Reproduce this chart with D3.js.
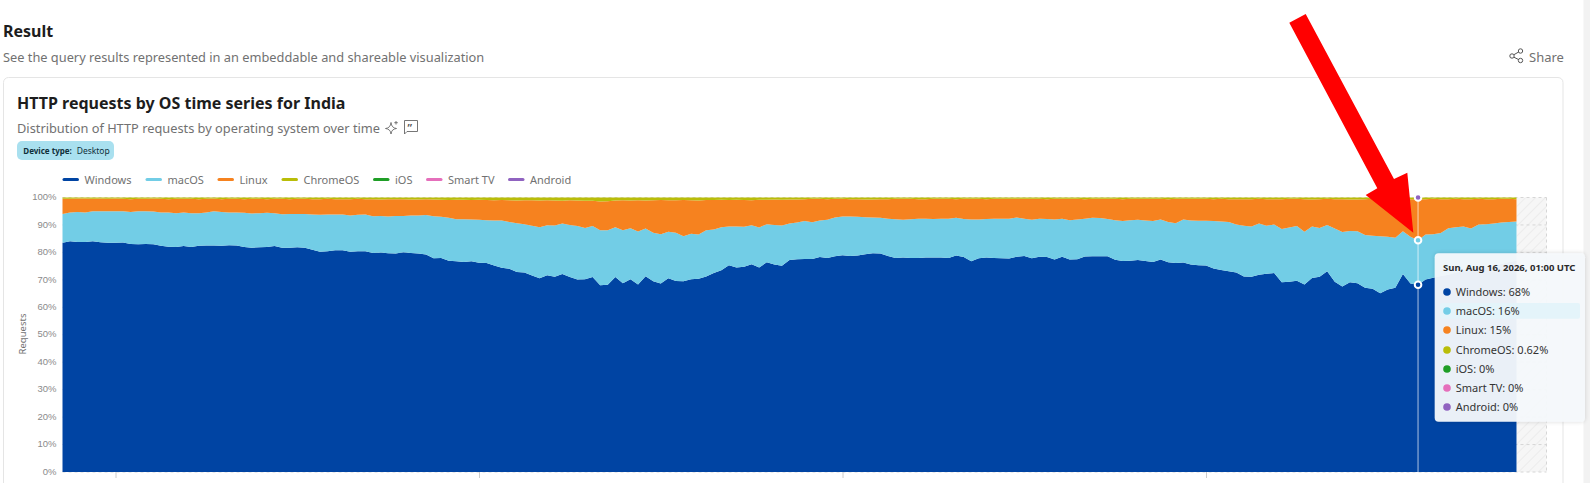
<!DOCTYPE html>
<html>
<head>
<meta charset="utf-8">
<script src="https://cdn.jsdelivr.net/npm/d3@7"></script>
<style>
  html, body { margin: 0; padding: 0; background: #fff; overflow: hidden; }
  svg { display: block; font-family: "Noto Sans", sans-serif; }
  .ytick text { font-family: "Liberation Sans", sans-serif; font-size: 9.5px; fill: #8a8a8a; }
</style>
</head>
<body>
<svg id="page" width="1590" height="483"></svg>
<script>
// ── Data (share of requests in %, one value per hour) ─────────────────────────
const windowsShare = [
  83.5,84.1,83.8,83.8,84.1,83.7,83.5,83.5,83.6,83.1,83.0,83.1,83.0,82.4,82.1,82.0,82.3,82.0,82.4,82.5,82.5,82.4,82.6,82.5,82.0,81.7,81.9,82.0,82.3,81.7,81.7,81.9,81.7,81.0,80.2,80.4,80.8,80.8,80.2,80.4,80.4,79.8,80.0,79.7,79.6,
  80.1,79.8,79.6,79.2,77.9,78.0,77.0,76.8,76.5,76.8,76.2,76.1,75.2,74.4,74.0,72.9,72.7,71.6,70.6,71.7,71.1,72.1,71.0,70.1,70.2,71.0,68.0,68.2,71.0,68.8,70.2,68.3,71.3,69.5,68.7,70.6,69.6,69.5,70.2,70.4,71.2,72.5,73.5,75.3,74.5,74.8,75.7,74.5,76.4,75.6,75.1,77.2,77.5,
  77.6,77.6,78.3,78.0,78.6,79.0,78.7,78.9,79.3,79.7,79.6,78.7,78.0,78.1,78.0,78.0,78.1,78.1,78.1,78.0,78.9,78.3,76.8,77.9,78.1,78.0,77.9,77.8,78.4,78.7,77.9,78.4,78.3,77.4,78.4,77.4,77.5,78.5,78.6,78.6,78.6,77.3,76.9,77.0,77.2,76.9,76.5,77.4,76.4,76.1,76.3,75.6,75.3,
  75.2,74.1,73.6,73.1,72.7,71.2,71.1,71.9,72.2,72.5,69.1,69.3,69.7,68.3,70.7,71.1,73.1,69.3,67.6,69.1,68.8,67.1,66.8,65.1,66.5,67.1,72.1,68.7,68.2,70.1,70.8,71.4,71.9,72.7,73.1,73.5,74.4,74.7,75.3,75.8,76.5,77.0
];
const macosShare = [
  10.5,10.4,10.9,10.7,10.9,11.3,11.5,11.5,11.4,11.6,12.0,11.9,11.9,12.1,12.4,12.3,12.2,12.3,11.9,12.0,12.5,12.3,11.9,12.0,12.4,12.5,12.4,12.4,12.0,12.2,12.3,12.1,12.3,12.8,13.5,13.4,13.0,13.0,13.2,13.3,13.4,13.4,13.3,13.4,13.7,
  13.2,13.6,13.8,14.4,15.3,15.0,15.6,15.3,15.6,15.2,15.7,15.6,16.4,17.2,17.1,17.7,17.6,18.1,18.6,18.2,18.7,18.4,19.0,19.5,18.7,18.6,20.1,19.9,18.2,19.3,18.6,19.3,17.4,17.7,17.9,16.9,17.6,16.4,16.6,16.1,16.9,15.8,15.7,14.1,14.9,14.5,14.2,14.6,13.9,14.4,14.7,13.3,13.4,
  13.8,13.4,13.3,13.9,14.1,14.1,14.4,14.1,13.5,13.0,13.0,13.6,14.1,13.8,14.1,14.3,14.2,14.1,14.2,14.3,13.7,13.9,15.2,14.1,14.1,14.3,14.4,14.5,14.3,13.6,14.0,13.9,13.9,14.6,13.9,14.3,14.5,13.8,14.0,13.9,13.6,14.4,14.5,14.7,14.7,14.7,14.9,14.6,14.7,14.5,15.7,16.0,16.2,
  16.3,17.3,17.7,18.0,17.5,18.5,18.3,18.6,17.5,17.7,19.4,19.8,19.9,19.2,18.7,17.8,16.9,19.4,19.8,18.7,18.9,19.2,19.3,20.8,19.2,18.2,15.6,17.0,16.2,16.4,15.8,15.7,16.9,16.5,16.3,15.2,15.8,15.6,15.2,15.1,14.6,14.3
];
const linuxShare = [
  5.5,5.0,4.9,5.1,4.5,4.6,4.5,4.6,4.5,4.7,4.5,4.5,4.7,5.0,4.9,5.2,5.0,5.2,5.1,5.0,4.6,4.7,5.0,5.0,5.0,5.3,5.2,5.0,5.2,5.6,5.4,5.5,5.5,5.6,5.7,5.7,5.6,5.6,6.0,5.8,5.6,6.2,6.0,6.3,6.1,
  6.1,5.9,5.9,5.8,6.1,6.2,6.5,7.1,7.1,7.1,7.3,7.4,7.4,7.5,7.9,8.3,8.7,9.3,9.7,9.1,9.1,8.3,9.0,9.3,9.9,9.2,10.4,10.5,9.7,10.9,10.1,11.4,10.2,11.8,12.5,11.5,11.8,13.2,12.2,12.4,11.0,10.8,10.0,9.7,9.8,9.8,9.1,10.1,8.9,9.3,9.4,8.8,8.4,
  8.0,8.5,7.9,7.5,6.8,6.4,6.3,6.4,6.5,6.6,6.8,7.1,7.4,7.6,7.4,7.1,7.1,7.3,7.2,7.2,6.8,7.3,7.5,7.5,7.2,7.2,7.2,7.2,6.8,7.2,7.6,7.2,7.2,7.5,7.2,7.8,7.5,7.1,6.9,7.0,7.3,7.8,8.0,7.8,7.6,7.9,8.1,7.5,8.3,8.9,7.5,7.9,8.0,
  8.0,8.0,8.2,8.3,9.2,9.7,10.0,9.0,9.7,9.2,10.9,10.4,9.9,11.9,9.9,10.5,9.5,10.7,12.0,11.5,11.6,13.1,13.4,13.5,13.7,14.0,11.7,13.7,15.0,12.9,12.9,12.3,10.6,10.3,10.0,10.7,9.3,9.1,8.9,8.6,8.4,8.1
];
const chromeosShare = [
  0.5,0.5,0.4,0.4,0.5,0.4,0.5,0.4,0.5,0.6,0.5,0.5,0.4,0.5,0.6,0.5,0.5,0.5,0.6,0.5,0.4,0.6,0.5,0.5,0.6,0.5,0.5,0.6,0.5,0.5,0.6,0.5,0.5,0.6,0.6,0.5,0.6,0.6,0.6,0.5,0.6,0.6,0.7,0.6,0.6,
  0.6,0.7,0.7,0.6,0.7,0.8,0.9,0.8,0.8,0.9,0.8,0.9,1.0,0.9,1.0,1.1,1.0,1.0,1.1,1.0,1.1,1.2,1.0,1.1,1.2,1.2,1.5,1.4,1.1,1.0,1.1,1.0,1.1,1.0,0.9,1.0,1.0,0.9,1.0,1.1,0.9,0.9,0.8,0.9,0.8,0.9,1.0,0.8,0.8,0.7,0.8,0.7,0.7,
  0.6,0.5,0.5,0.6,0.5,0.5,0.6,0.6,0.7,0.7,0.6,0.6,0.5,0.5,0.5,0.6,0.6,0.5,0.5,0.5,0.6,0.5,0.5,0.5,0.6,0.5,0.5,0.5,0.5,0.5,0.5,0.5,0.6,0.5,0.5,0.5,0.5,0.6,0.5,0.5,0.5,0.5,0.6,0.5,0.5,0.5,0.5,0.5,0.6,0.5,0.5,0.5,0.5,
  0.5,0.6,0.5,0.6,0.6,0.6,0.6,0.5,0.6,0.6,0.6,0.5,0.5,0.6,0.7,0.6,0.5,0.6,0.6,0.7,0.7,0.6,0.5,0.6,0.6,0.7,0.6,0.6,0.62,0.6,0.5,0.6,0.6,0.5,0.6,0.6,0.5,0.6,0.6,0.5,0.5,0.6
];
// iOS, Smart TV and Android read 0% all the way across
const seriesNames  = ['Windows', 'macOS', 'Linux', 'ChromeOS', 'iOS', 'Smart TV', 'Android'];
const seriesColors = ['#0044a3', '#72cde6', '#f6821f', '#b9bd08', '#1f9e26', '#e56fbb', '#9063c0'];
const tooltipValues = ['68%', '16%', '15%', '0.62%', '0%', '0%', '0%'];
const yTickValues  = [0, 10, 20, 30, 40, 50, 60, 70, 80, 90, 100];
const xTickDates   = [Date.UTC(2026, 7, 8, 21), Date.UTC(2026, 7, 10, 21), Date.UTC(2026, 7, 12, 21), Date.UTC(2026, 7, 14, 21)];
const startTime    = Date.UTC(2026, 7, 8, 14);
const hoverTime    = Date.UTC(2026, 7, 16, 1);
const HOUR         = 3600e3;

// ── Layout ────────────────────────────────────────────────────────────────────
const PLOT = { left: 62.5, right: 1516.5, hatchRight: 1546.5, top: 197.5, bottom: 472 };

const rows = windowsShare.map((w, i) => ({
  time: new Date(startTime + i * HOUR),
  Windows: w, macOS: macosShare[i], Linux: linuxShare[i], ChromeOS: chromeosShare[i],
  iOS: 0, 'Smart TV': 0, Android: 0
}));

const svg = d3.select('#page');
const textGrey = '#717171';

// ── Page furniture ────────────────────────────────────────────────────────────
function label(parent, x, y, str, size, color, weight) {
  return parent.append('text')
    .attr('x', x).attr('y', y)
    .attr('dominant-baseline', 'central')
    .attr('font-size', size).attr('fill', color)
    .attr('font-weight', weight || 400)
    .text(str);
}

svg.append('rect').attr('x', 1583.5).attr('y', 0).attr('width', 7).attr('height', 483).attr('fill', '#f2f2f2');
svg.append('rect').attr('x', 3.5).attr('y', 77.5).attr('width', 1559.5).attr('height', 430)
  .attr('rx', 5).attr('fill', '#fff').attr('stroke', '#e5e5e5');

label(svg, 3, 31, 'Result', 16, '#1d1d1d', 700);
label(svg, 3, 56.5, 'See the query results represented in an embeddable and shareable visualization', 12.8, textGrey);
label(svg, 1529, 56.5, 'Share', 13, textGrey);
label(svg, 17, 103, 'HTTP requests by OS time series for India', 16, '#1d1d1d', 700);
label(svg, 17, 128, 'Distribution of HTTP requests by operating system over time', 12.8, textGrey);

// share icon
const share = svg.append('g').attr('fill', 'none').attr('stroke', '#555').attr('stroke-width', 1);
share.append('path').attr('d', 'M1512.5 55.5L1519.5 51.5M1512.5 56.5L1519.5 60');
[[1512, 56], [1520.5, 51], [1520.5, 60.5]].forEach(p =>
  share.append('circle').attr('cx', p[0]).attr('cy', p[1]).attr('r', 2.2).attr('fill', '#fff'));

// sparkle + comment icons next to the description
svg.append('path').attr('fill', 'none').attr('stroke', '#666').attr('stroke-width', 0.9)
  .attr('d', 'M391 122.5Q391.5 128 396.5 128.5Q391.5 129 391 134Q390.5 129 385.5 128.5Q390.5 128 391 122.5ZM396 121v3.5M394.3 122.7h3.5');
svg.append('path').attr('fill', 'none').attr('stroke', '#666').attr('stroke-width', 0.9)
  .attr('d', 'M404.5 120.5h13v11h-10.5l-2.5 2.5z');
label(svg, 407.5, 127.5, '”', 11, '#555', 600);

// badge
svg.append('rect').attr('x', 17).attr('y', 141).attr('width', 97).attr('height', 19).attr('rx', 5).attr('fill', '#a9e0ef');
label(svg, 23.3, 150.5, 'Device type:', 8, '#0f2f3a', 700);
label(svg, 76.7, 150.5, 'Desktop', 8.5, '#0f2f3a');

// ── Legend ────────────────────────────────────────────────────────────────────
const legendX = [62.5, 145.5, 217.5, 281.5, 373, 426, 508];
const legend = svg.append('g').selectAll('g').data(seriesNames).join('g')
  .attr('transform', (d, i) => `translate(${legendX[i]},179.5)`);
legend.append('line').attr('x1', 1.5).attr('x2', 15).attr('stroke-width', 3).attr('stroke-linecap', 'round')
  .attr('stroke', (d, i) => seriesColors[i]);
legend.append('text').attr('x', 22).attr('dominant-baseline', 'central')
  .attr('font-size', 11).attr('fill', textGrey).text(d => d);

// ── Scales ────────────────────────────────────────────────────────────────────
const x = d3.scaleUtc()
  .domain([new Date(startTime), new Date(startTime + (windowsShare.length - 1) * HOUR)])
  .range([PLOT.left, PLOT.right]);
const y = d3.scaleLinear().domain([0, 100]).range([PLOT.bottom, PLOT.top]);

// ── Hatched "incomplete data" band ────────────────────────────────────────────
const defs = svg.append('defs');
const hatch = defs.append('pattern').attr('id', 'hatch').attr('patternUnits', 'userSpaceOnUse')
  .attr('width', 7).attr('height', 7).attr('patternTransform', 'rotate(45)');
hatch.append('rect').attr('width', 7).attr('height', 7).attr('fill', '#f6f6f6');
hatch.append('line').attr('x1', 0).attr('x2', 0).attr('y1', 0).attr('y2', 7).attr('stroke', '#ececec').attr('stroke-width', 2);

svg.append('rect').attr('x', PLOT.right).attr('y', PLOT.top)
  .attr('width', PLOT.hatchRight - PLOT.right).attr('height', PLOT.bottom - PLOT.top)
  .attr('fill', 'url(#hatch)');

// ── Grid ──────────────────────────────────────────────────────────────────────
svg.append('g').selectAll('line').data(yTickValues).join('line')
  .attr('x1', PLOT.left).attr('x2', PLOT.hatchRight)
  .attr('y1', d => y(d)).attr('y2', d => y(d))
  .attr('stroke', '#d6d6d6').attr('stroke-dasharray', '3,3');
svg.append('line').attr('x1', PLOT.hatchRight).attr('x2', PLOT.hatchRight)
  .attr('y1', PLOT.top).attr('y2', PLOT.bottom)
  .attr('stroke', '#d6d6d6').attr('stroke-dasharray', '3,3');

// ── Stacked areas ─────────────────────────────────────────────────────────────
const stacked = d3.stack().keys(seriesNames)(rows);
const area = d3.area()
  .x(d => x(d.data.time))
  .y0(d => y(d[0]))
  .y1(d => y(d[1]));
svg.append('g').selectAll('path').data(stacked).join('path')
  .attr('fill', (d, i) => seriesColors[i])
  .attr('d', area);

// ── Axes ──────────────────────────────────────────────────────────────────────
const yAxis = svg.append('g').attr('class', 'ytick')
  .attr('transform', `translate(${PLOT.left - 6},-0.8)`)
  .call(d3.axisLeft(y).tickValues(yTickValues).tickSize(0).tickPadding(0).tickFormat(d => d + '%'));
yAxis.select('.domain').remove();

const xAxis = svg.append('g')
  .attr('transform', `translate(0,${PLOT.bottom})`)
  .call(d3.axisBottom(x).tickValues(xTickDates.map(d => new Date(d))).tickSize(6).tickFormat(''));
xAxis.select('.domain').remove();
xAxis.selectAll('line').attr('stroke', '#cccccc');

svg.append('text')
  .attr('transform', `translate(22,334) rotate(-90)`)
  .attr('text-anchor', 'middle').attr('dominant-baseline', 'central')
  .attr('font-size', 9.5).attr('fill', textGrey)
  .text('Requests');

// ── Hover marker ──────────────────────────────────────────────────────────────
const hoverX = x(new Date(hoverTime));
svg.append('line').attr('x1', hoverX).attr('x2', hoverX)
  .attr('y1', PLOT.top).attr('y2', PLOT.bottom)
  .attr('stroke', '#fff').attr('stroke-opacity', 0.45).attr('stroke-width', 1.5);
const hoverIndex = (hoverTime - startTime) / HOUR;
[0, 1, 6].forEach(s => {
  svg.append('circle')
    .attr('cx', hoverX).attr('cy', y(stacked[s][hoverIndex][1]))
    .attr('r', 3.3)
    .attr('fill', seriesColors[s]).attr('stroke', '#fff').attr('stroke-width', 2);
});

// ── Tooltip ───────────────────────────────────────────────────────────────────
const tipShadow = defs.append('filter').attr('id', 'tip-shadow')
  .attr('x', '-10%').attr('y', '-10%').attr('width', '120%').attr('height', '120%');
tipShadow.append('feDropShadow').attr('dx', 0).attr('dy', 0).attr('stdDeviation', 2)
  .attr('flood-color', '#000').attr('flood-opacity', 0.16);

const tip = svg.append('g');
tip.append('rect').attr('x', 1434.7).attr('y', 253.3).attr('width', 150.3).attr('height', 168.4)
  .attr('rx', 4).attr('fill', '#f6f9fc').attr('fill-opacity', 0.95).attr('filter', 'url(#tip-shadow)');
tip.append('rect').attr('x', 1440).attr('y', 303).attr('width', 140).attr('height', 15.7)
  .attr('rx', 2).attr('fill', '#e4f4fa');
label(tip, 1443, 267.5, 'Sun, Aug 16, 2026, 01:00 UTC', 9.5, '#2b2b2b', 700);
const tipRowY = [291.5, 310.5, 329.5, 349.5, 368.5, 387.5, 406.5];
seriesNames.forEach((name, i) => {
  tip.append('circle').attr('cx', 1447).attr('cy', tipRowY[i] + 0.5).attr('r', 3.8).attr('fill', seriesColors[i]);
  label(tip, 1455.7, tipRowY[i], `${name}: ${tooltipValues[i]}`, 11, '#333');
});

// ── Red arrow laid over the screenshot ────────────────────────────────────────
svg.append('polygon')
  .attr('points', '1289.3,22.7 1305.7,14 1394,179 1407.3,172.7 1413.3,232.7 1365.7,195 1377.3,188.3')
  .attr('fill', '#ff0000');
</script>
</body>
</html>
